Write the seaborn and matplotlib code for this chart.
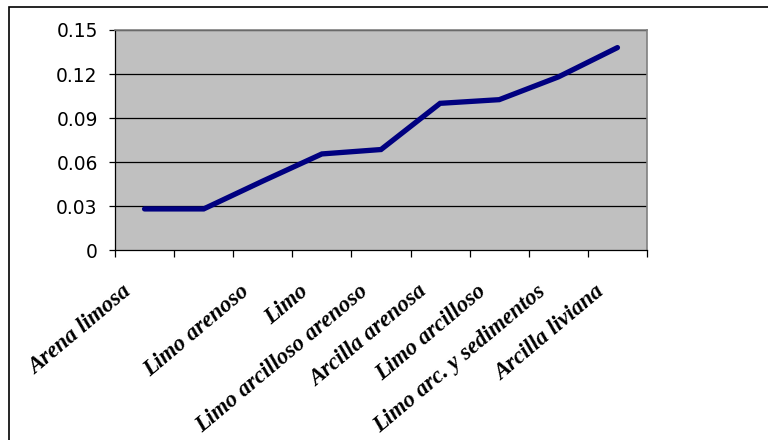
import matplotlib
matplotlib.use("Agg")
import matplotlib.pyplot as plt
from matplotlib.patches import Rectangle
from matplotlib.transforms import ScaledTranslation
import numpy as np
import pandas as pd
import seaborn as sns

# Soil texture classes (second class carries no label on the axis)
categories = ["Arena limosa", "", "Limo arenoso", "Limo", "Limo arcilloso arenoso",
              "Arcilla arenosa", "Limo arcilloso", "Limo arc. y sedimentos",
              "Arcilla liviana"]
values = [0.028, 0.028, 0.047, 0.0655, 0.0685, 0.100, 0.1025, 0.118, 0.138]
y_ticks = [0, 0.03, 0.06, 0.09, 0.12, 0.15]
y_tick_labels = ["0", "0.03", "0.06", "0.09", "0.12", "0.15"]

df = pd.DataFrame({"pos": np.arange(len(categories)), "valor": values})

sns.set_theme(style="white")
plt.rcParams["font.family"] = ["DejaVu Sans"]

fig = plt.figure(figsize=(7.68, 4.40), dpi=100)
ax = fig.add_axes([115 / 768, 1 - 250 / 440, 532 / 768, 220 / 440])
ax.set_facecolor("#c0c0c0")

sns.lineplot(data=df, x="pos", y="valor", ax=ax, color="#000080",
             linewidth=3.8, solid_joinstyle="miter", zorder=3)

# horizontal gridlines
for yv in y_ticks[1:]:
    ax.axhline(yv, color="black", linewidth=0.9, zorder=1)

ax.set_xlim(-0.5, len(categories) - 0.5)
ax.set_ylim(0, 0.15)
ax.set_xlabel("")
ax.set_ylabel("")

ax.set_yticks(y_ticks)
ax.set_yticklabels(y_tick_labels, fontsize=13.4, color="black")
ax.tick_params(axis="y", which="major", direction="out", length=4,
               width=0.9, color="black", pad=8.5, left=True)

# category boundaries carry the tick marks, labels sit at category centres
ax.set_xticks(np.arange(-0.5, len(categories)), minor=True)
ax.set_xticks(np.arange(len(categories)))
ax.set_xticklabels(categories, rotation=40, ha="right", va="top",
                   fontfamily="Liberation Serif", fontweight="bold",
                   fontstyle="italic", fontsize=16.5, color="black")
ax.tick_params(axis="x", which="minor", direction="out", length=5,
               width=0.9, color="black", bottom=True)
ax.tick_params(axis="x", which="major", length=0, pad=22.5)
shift = ScaledTranslation(-9 / 100, 0, fig.dpi_scale_trans)
for lab in ax.get_xticklabels():
    lab.set_transform(lab.get_transform() + shift)

for side in ["left", "bottom"]:
    ax.spines[side].set_color("black")
    ax.spines[side].set_linewidth(0.9)
for side in ["right", "top"]:
    ax.spines[side].set_color("#808080")
    ax.spines[side].set_linewidth(1.2)

# chart frame
fig.patches.append(Rectangle((9 / 768, -0.1), 1.2, 1 - 7 / 440 + 0.1,
                             transform=fig.transFigure, fill=False,
                             edgecolor="black", linewidth=1.2))

fig.savefig("out.png", dpi=100)
